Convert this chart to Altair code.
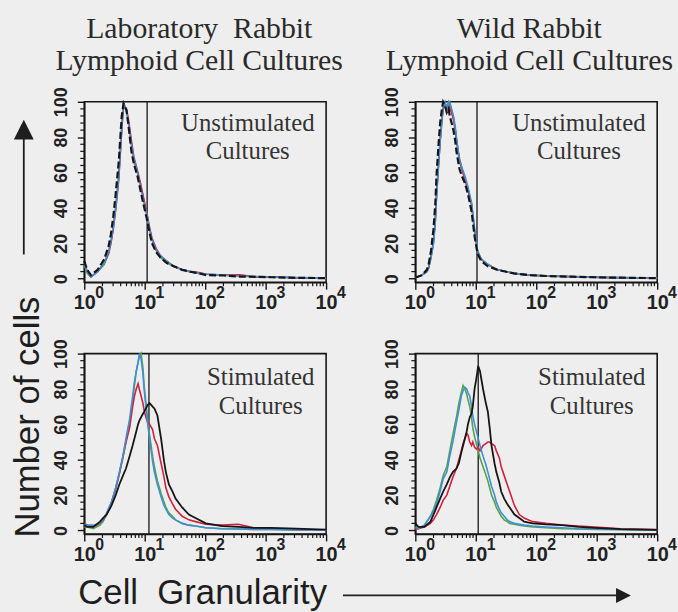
import altair as alt
import pandas as pd

# ---------------- data (log10 of granularity, % of max cells) ----------------
TL_LX = [0.00, 0.05, 0.11, 0.22, 0.33, 0.40, 0.44, 0.48, 0.52, 0.57, 0.62, 0.65, 0.70, 0.74, 0.78,
         0.82, 0.88, 0.93, 0.98, 1.04, 1.08, 1.12, 1.19, 1.26, 1.36, 1.48, 1.62, 1.75, 1.90, 2.02,
         2.30, 2.57, 2.85, 3.11, 3.50, 4.00]
TL_BLACK = [10, 5, 2, 5, 11, 18, 25, 35, 48, 66, 92, 99, 95, 84, 72, 65, 58, 50, 42, 33, 26, 20, 15, 12,
            9, 7, 5, 4, 3, 2, 1.8, 1.2, 1, 0.8, 0.5, 0.3]
TL_RED = [9, 4, 1, 4, 9, 14, 20, 28, 39, 56, 84, 98, 96, 88, 78, 69, 61, 54, 46, 36, 29, 23, 17, 13,
          10, 7, 5, 4, 3.5, 2.5, 2, 2.2, 1, 1, 0.5, 0.3]
TL_BLUE = [8, 4, 1, 4, 9, 15, 21, 29, 40, 58, 86, 100, 94, 86, 76, 68, 60, 52, 44, 35, 28, 22, 16, 13,
           10, 7, 5, 4, 3, 2.5, 2, 1.5, 1.2, 1, 0.6, 0.3]
TL_GREEN = [8, 3, 1, 4, 8, 14, 20, 29, 40, 57, 85, 99, 95, 87, 76, 66, 60, 53, 45, 36, 28, 22, 16, 12,
            9, 7, 5, 4, 3, 2.5, 2, 1.5, 1, 0.8, 0.5, 0.3]

TR_LX = [0.00, 0.03, 0.11, 0.19, 0.22, 0.26, 0.30, 0.33, 0.35, 0.38, 0.41, 0.44, 0.46, 0.49, 0.52,
         0.55, 0.57, 0.60, 0.63, 0.66, 0.68, 0.71, 0.73, 0.77, 0.82, 0.87, 0.93, 0.98, 1.03, 1.09,
         1.20, 1.36, 1.63, 1.90, 2.18, 2.72, 3.27, 4.00]
TR_BLACK = [1, 1, 2, 5, 8, 16, 28, 42, 58, 74, 88, 96, 100, 98, 94, 96, 92, 88, 84, 78, 72, 66, 62, 58,
            54, 48, 38, 24, 14, 10, 7, 5, 3, 2, 1.5, 1, 0.6, 0.3]
TR_RED = [1, 1, 2, 4, 6, 13, 21, 33, 47, 63, 78, 90, 96, 99, 97, 98, 96, 94, 90, 84, 78, 72, 68, 62,
          56, 50, 42, 27, 15, 11, 8, 5, 3, 2, 1.5, 1, 0.6, 0.3]
TR_BLUE = [1, 1, 2, 4, 6, 12, 20, 32, 46, 62, 78, 90, 97, 100, 96, 99, 100, 96, 92, 86, 80, 72, 67, 63,
           58, 52, 43, 28, 16, 11, 8, 5, 3, 2, 1.5, 1, 0.6, 0.3]
TR_GREEN = [1, 1, 2, 4, 6, 12, 20, 32, 46, 62, 77, 89, 96, 99, 97, 100, 98, 95, 91, 85, 79, 71, 66, 62,
            57, 51, 42, 27, 15, 11, 8, 5, 3, 2, 1.5, 1, 0.6, 0.3]

BL_LX = [0.00, 0.05, 0.15, 0.26, 0.31, 0.37, 0.45, 0.52, 0.58, 0.64, 0.69, 0.75, 0.80, 0.83, 0.86,
         0.89, 0.91, 0.94, 0.97, 0.99, 1.02, 1.05, 1.08, 1.13, 1.16, 1.21, 1.27, 1.32, 1.35, 1.40,
         1.46, 1.51, 1.62, 1.73, 1.84, 2.01, 2.28, 2.55, 2.80, 3.10, 3.50, 4.00]
BL_BLACK = [3, 2, 2, 5, 7, 9, 14, 20, 26, 31, 35, 42, 48, 52, 56, 60, 62, 64, 66, 67, 69, 71, 72, 70,
            69, 65, 52, 39, 33, 26, 22, 18, 13, 9, 7, 4, 2.5, 2, 1.5, 1.5, 1, 0.5]
BL_RED = [4, 3, 2, 4, 6, 9, 16, 24, 32, 42, 50, 58, 70, 76, 80, 83, 80, 76, 72, 68, 64, 61, 60, 57,
          52, 48, 38, 30, 24, 19, 15, 12, 8, 6, 5, 3.5, 3, 3.5, 1.5, 1, 0.5, 0.2]
BL_BLUE = [3, 3, 3, 4, 6, 10, 16, 24, 33, 42, 52, 63, 76, 84, 90, 95, 100, 97, 89, 80, 70, 60, 52, 39,
           33, 26, 19, 14, 12, 9, 7, 6, 4, 3, 2.5, 1.5, 1, 0.8, 0.6, 0.5, 0.3, 0.2]
BL_GREEN = [2, 2, 1, 3, 5, 9, 15, 23, 32, 41, 50, 61, 73, 82, 90, 95, 98, 100, 92, 82, 72, 62, 54, 42,
            36, 28, 21, 16, 13, 10, 8, 6, 4, 3, 2.5, 1.5, 1, 0.8, 0.6, 0.5, 0.3, 0.2]

BR_LX = [0.00, 0.05, 0.15, 0.25, 0.30, 0.35, 0.41, 0.46, 0.52, 0.57, 0.62, 0.68, 0.72, 0.76, 0.79,
         0.82, 0.85, 0.87, 0.90, 0.93, 0.95, 0.98, 1.01, 1.04, 1.07, 1.12, 1.16, 1.20, 1.23, 1.26,
         1.31, 1.34, 1.39, 1.42, 1.47, 1.52, 1.56, 1.64, 1.72, 1.80, 1.94, 2.16, 2.43, 2.70, 2.97,
         3.40, 4.00]
BR_BLACK = [4, 2, 2, 5, 9, 13, 18, 22, 26, 30, 33, 35, 38, 44, 48, 52, 56, 60, 64, 66, 70, 80, 86, 93,
            90, 80, 73, 67, 58, 48, 38, 33, 27, 22, 18, 15, 13, 9, 7, 5, 4, 3.5, 3, 2, 1.5, 0.8, 0.3]
BR_RED = [1, 1, 2, 4, 6, 9, 13, 17, 20, 25, 30, 35, 40, 45, 49, 52, 55, 54, 50, 48, 50, 47, 46, 47,
          45, 48, 49, 50, 50, 49, 48, 45, 41, 36, 31, 26, 22, 14, 9, 7, 5, 4, 3, 2.5, 2, 1, 0.5]
BR_BLUE = [2, 1, 3, 8, 11, 15, 22, 29, 33, 42, 50, 61, 68, 76, 79, 81, 80, 78, 76, 70, 65, 60, 56, 52,
           48, 42, 38, 33, 29, 25, 20, 16, 12, 10, 8, 6, 5, 4, 3.5, 3, 2.5, 2, 1.5, 1, 0.8, 0.5, 0.3]
BR_GREEN = [1, 1, 3, 8, 12, 17, 24, 31, 36, 45, 54, 64, 72, 78, 82, 80, 77, 74, 70, 64, 58, 53, 49, 45,
            41, 36, 32, 28, 24, 20, 16, 13, 10, 8, 6, 5, 4, 3.5, 3, 2.5, 2, 1.5, 1, 0.8, 0.6, 0.4, 0.2]

GATES = {"TL": 1.04, "TR": 1.02, "BL": 1.07, "BR": 1.04}   # log10 position of the marker line
X_TICKS = [1, 10, 100, 1000, 10000]
X_EXP = ["0", "1", "2", "3", "4"]
Y_TICKS = [0, 20, 40, 60, 80, 100]
Y_MINOR = [4, 8, 12, 16, 24, 28, 32, 36, 44, 48, 52, 56, 64, 68, 72, 76, 84, 88, 92, 96]
X_MINOR = [k * 10 ** d for d in range(4) for k in range(2, 10)]

COL_TITLES = {"TL": ["Laboratory\u00a0 Rabbit", "Lymphoid Cell Cultures"],
              "TR": ["Wild Rabbit", "Lymphoid Cell Cultures"]}
TOP_NOTE = ["Unstimulated", "Cultures"]
BOTTOM_NOTE = ["Stimulated", "Cultures"]

PANELS = {
    "TL": (TL_LX, {"black": TL_BLACK, "red": TL_RED, "blue": TL_BLUE, "green": TL_GREEN}),
    "TR": (TR_LX, {"black": TR_BLACK, "red": TR_RED, "blue": TR_BLUE, "green": TR_GREEN}),
    "BL": (BL_LX, {"black": BL_BLACK, "red": BL_RED, "blue": BL_BLUE, "green": BL_GREEN}),
    "BR": (BR_LX, {"black": BR_BLACK, "red": BR_RED, "blue": BR_BLUE, "green": BR_GREEN}),
}
rows = []
for pid, (lx, ser) in PANELS.items():
    for s, ys in ser.items():
        for a, b in zip(lx, ys):
            rows.append({"panel": pid, "series": s, "lx": a, "y": b})
df = pd.DataFrame(rows)

# ---------------- styling ----------------
BG = "#eeeeee"
INK = "#151515"
SERIF = "Liberation Serif"
SANS = "Liberation Sans"
NARROW = "Liberation Sans Narrow, Liberation Sans"
COLORS = {"black": "#161616", "red": "#d3203f", "blue": "#3f8fd8", "green": "#56a447"}
W, H = 244, 182

X_AXIS = alt.Axis(values=X_TICKS, labelExpr="'10'", title=None, grid=False, tickSize=7, tickWidth=1.4,
                  tickColor=INK, domainColor=INK, domainWidth=1.6, labelPadding=20,
                  labelBaseline="alphabetic", labelAlign="center", labelFlush=False, labelOverlap=False,
                  labelFont=SANS, labelFontSize=20, labelFontWeight="bold", labelColor="#222222")
Y_AXIS = alt.Axis(values=Y_TICKS, title=None, grid=False, tickSize=7, tickWidth=1.4, tickColor=INK,
                  domainColor=INK, domainWidth=1.6, labelAngle=270, labelAlign="center",
                  labelBaseline="bottom", labelPadding=7, labelFont=NARROW, labelFontSize=18,
                  labelFontWeight="bold", labelColor="#222222", labelOverlap=False)


def xe():
    return alt.X("x:Q", scale=alt.Scale(type="log", domain=[1, 10000], nice=False), axis=X_AXIS)


def ye():
    return alt.Y("y:Q", scale=alt.Scale(domain=[-2, 100], nice=False, zero=False), axis=Y_AXIS)


ONE = pd.DataFrame({"k": [0]})


def panel(pid, top):
    d = df[df.panel == pid]
    layers = []
    layers.append(
        alt.Chart(pd.DataFrame({"lx": [GATES[pid]]})).transform_calculate(x="pow(10, datum.lx)")
        .mark_rule(color=INK, strokeWidth=1.3).encode(x=xe())
    )
    for s in ["green", "red", "blue", "black"]:
        sd = d[d.series == s]
        kw = dict(color=COLORS[s], strokeWidth=1.6)
        if s == "black":
            kw["strokeWidth"] = 2.2 if top else 1.8
            if top:
                kw["strokeDash"] = [7, 3]
        layers.append(
            alt.Chart(sd).transform_calculate(x="pow(10, datum.lx)")
            .mark_line(**kw).encode(x=xe(), y=ye())
        )
    layers.append(
        alt.Chart(pd.DataFrame({"x": X_MINOR})).mark_rule(color=INK, strokeWidth=1.2)
        .encode(x=xe(), y=alt.value(H), y2=alt.value(H + 4))
    )
    layers.append(
        alt.Chart(pd.DataFrame({"y": Y_MINOR})).mark_rule(color=INK, strokeWidth=1.2)
        .encode(y=ye(), x=alt.value(0), x2=alt.value(-4))
    )
    layers.append(
        alt.Chart(pd.DataFrame({"x": X_TICKS, "e": X_EXP}))
        .mark_text(align="left", baseline="alphabetic", dx=11, font=SANS, fontSize=16,
                   fontWeight="bold", color="#222222")
        .encode(x=xe(), y=alt.value(H + 16), text="e:N")
    )
    note = TOP_NOTE if top else BOTTOM_NOTE
    layers.append(
        alt.Chart(ONE).mark_text(align="center", baseline="alphabetic", font=SERIF, fontSize=25,
                                 lineHeight=29, color="#333333")
        .encode(x=alt.value(165 if top else 178), y=alt.value(29 if top else 32), text=alt.value(note))
    )
    if pid in COL_TITLES:
        layers.append(
            alt.Chart(ONE).mark_text(align="center", baseline="alphabetic", font=SERIF, fontSize=30,
                                     lineHeight=32, color="#2a2a2a")
            .encode(x=alt.value(116 if pid == "TL" else 115), y=alt.value(-64),
                    text=alt.value(COL_TITLES[pid]))
        )
    if pid == "BL":
        # anchor of the whole figure's top-left corner
        layers.append(alt.Chart(ONE).mark_rect(opacity=0).encode(
            x=alt.value(-84), x2=alt.value(-83), y=alt.value(-353), y2=alt.value(-352)))
        # y axis title + arrow
        layers.append(alt.Chart(ONE).mark_text(angle=270, align="center", baseline="alphabetic",
                                               font=SANS, fontSize=35, color="#1e1e1e")
                      .encode(x=alt.value(-46), y=alt.value(64), text=alt.value("Number of cells")))
        layers.append(alt.Chart(ONE).mark_rule(color="#1e1e1e", strokeWidth=1.8)
                      .encode(x=alt.value(-61), y=alt.value(-100), y2=alt.value(-218)))
        layers.append(alt.Chart(ONE).mark_point(shape="M0,-1L1,1L-1,1Z", size=400, filled=True,
                                                opacity=1, color="#1e1e1e")
                      .encode(x=alt.value(-61), y=alt.value(-226)))
        # x axis title + arrow
        layers.append(alt.Chart(ONE).mark_text(align="left", baseline="alphabetic",
                                               font=SANS, fontSize=35, color="#1e1e1e")
                      .encode(x=alt.value(-6), y=alt.value(253),
                              text=alt.value("Cell\u00a0 Granularity")))
        layers.append(alt.Chart(ONE).mark_rule(color="#1e1e1e", strokeWidth=1.8)
                      .encode(x=alt.value(261), x2=alt.value(540), y=alt.value(244)))
        layers.append(alt.Chart(ONE).mark_point(shape="M1,0L-1,-1L-1,1Z", size=225, filled=True,
                                                opacity=1, color="#1e1e1e")
                      .encode(x=alt.value(544), y=alt.value(244)))
    return alt.layer(*layers).properties(width=W, height=H)


chart = alt.concat(
    panel("TL", True), panel("TR", True), panel("BL", False), panel("BR", False),
    columns=2, spacing={"row": 72, "column": 90}, bounds="flush",
    padding={"left": 0, "top": 0, "right": 0, "bottom": 0},
).configure(background=BG).configure_view(stroke=INK, strokeWidth=1.6, fill=BG)

chart.save("out.html", embed_options={"renderer": "svg", "actions": False})
